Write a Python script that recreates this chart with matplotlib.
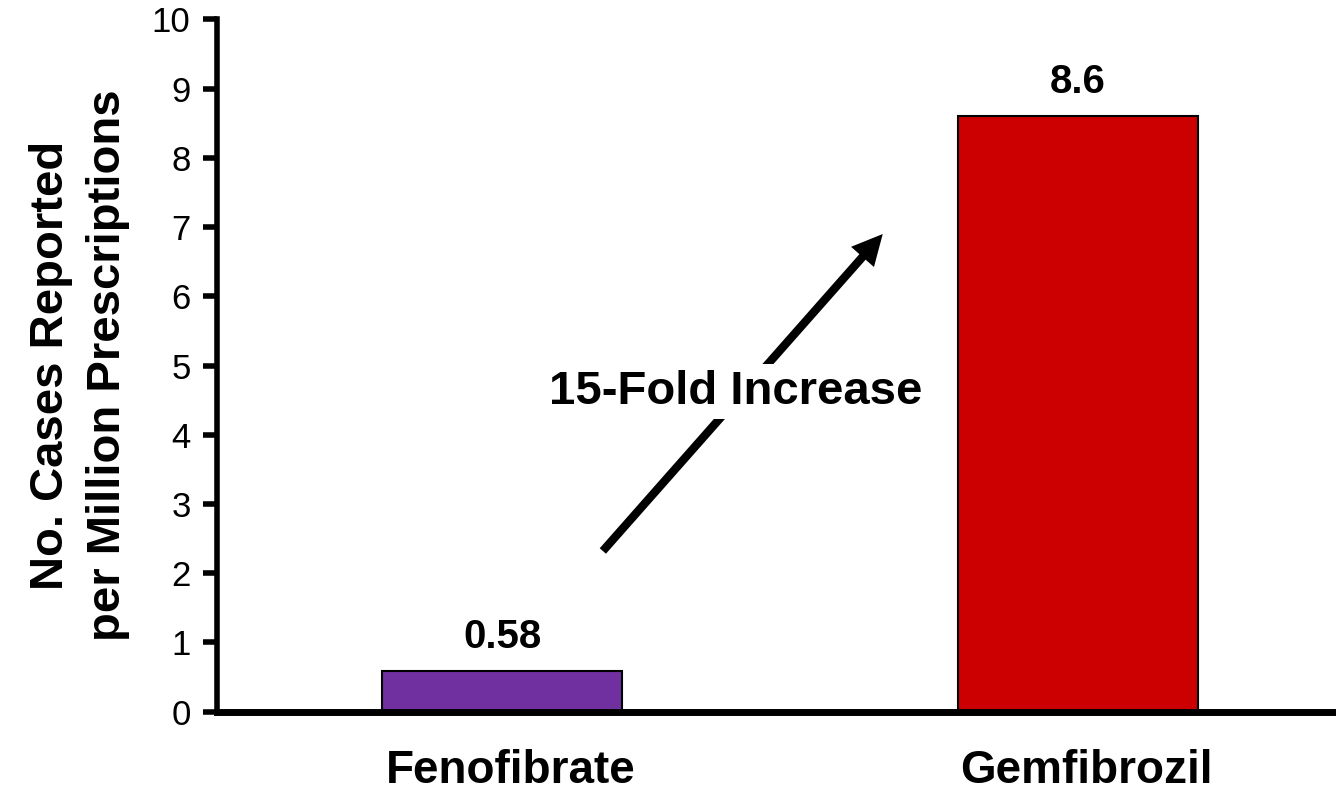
import matplotlib.pyplot as plt
from matplotlib.transforms import ScaledTranslation

plt.rcParams['font.family'] = ['Liberation Sans', 'DejaVu Sans']

# Reported cases per million prescriptions
drugs = ['Fenofibrate', 'Gemfibrozil']
cases = [0.58, 8.6]
bar_colors = ['#7030A0', '#CC0000']
yticks = list(range(0, 11))

fig = plt.figure(figsize=(13.36, 7.92), dpi=100)
ax = fig.add_axes([0.1624, 0.1016, 0.8376, 0.8738])

x = list(range(len(drugs)))
bars = ax.bar(x, cases, width=0.4167, color=bar_colors,
              edgecolor='black', linewidth=1.5, zorder=2)

# value labels above the bars
for xi, val in zip(x, cases):
    ax.annotate(f'{val:g}', xy=(xi, val), xytext=(0, 16.5),
                textcoords='offset points', ha='center', va='baseline',
                fontsize=29, fontweight='bold')

ax.set_xlim(-0.495, 1.448)
ax.set_ylim(0, 10)
ax.set_yticks(yticks)
ax.set_yticklabels([str(t) for t in yticks], fontsize=25)
ax.tick_params(axis='y', direction='out', length=10, width=4, pad=9)

ax.set_xticks(x)
ax.set_xticklabels(drugs, fontsize=33, fontweight='bold')
ax.tick_params(axis='x', length=0, pad=27)
# nudge category names slightly right
for lbl in ax.get_xticklabels():
    lbl.set_transform(lbl.get_transform() + ScaledTranslation(6 / 72, 0, fig.dpi_scale_trans))

for side in ['top', 'right']:
    ax.spines[side].set_visible(False)
ax.spines['left'].set_linewidth(4)
ax.spines['bottom'].set_linewidth(5)

ax.set_ylabel('No. Cases Reported\nper Million Prescriptions',
              fontsize=34, fontweight='bold', linespacing=1.38, labelpad=16)

# fold-change arrow with the label sitting over it
ax.annotate('', xy=(0.661, 6.9), xytext=(0.175, 2.32),
            arrowprops=dict(arrowstyle='simple,head_length=1.1,head_width=1.1,tail_width=0.3',
                            mutation_scale=20, color='black', lw=0, shrinkA=0, shrinkB=0))
ax.text(0.406, 4.62, '15-Fold Increase', ha='center', va='center',
        fontsize=34, fontweight='bold', zorder=5,
        bbox=dict(facecolor='white', edgecolor='none', pad=4))

fig.savefig('out.png', dpi=100)
